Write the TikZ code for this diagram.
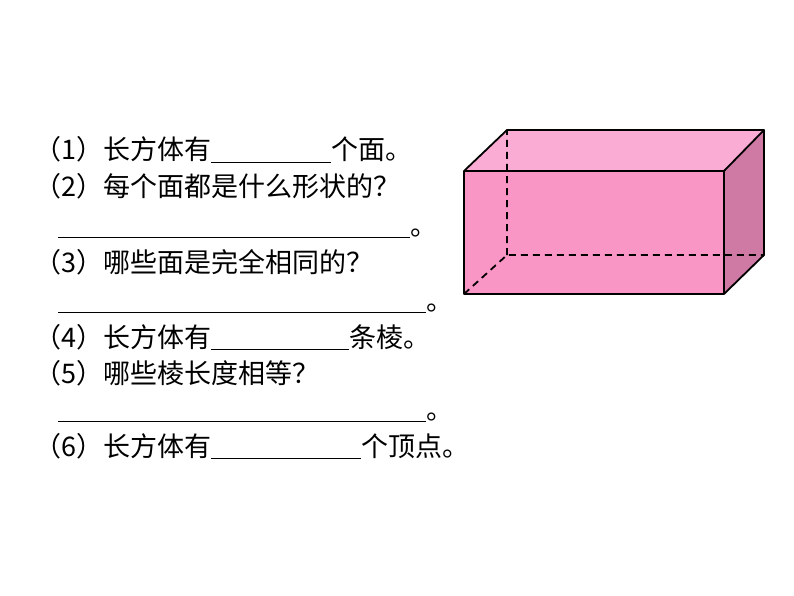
\documentclass[tikz,border=0pt]{standalone}
\usepackage{fontspec}
\setmainfont{Noto Sans CJK SC}
\definecolor{frontpink}{RGB}{249,150,198}
\definecolor{toppink}{RGB}{250,172,212}
\definecolor{sidepink}{RGB}{206,122,165}
\newcommand{\blankline}[1]{\rule[-3pt]{#1}{0.9pt}}
\tikzset{
  qline/.style={anchor=base west,inner sep=0pt,font=\fontsize{27}{27}\selectfont},
  edgeline/.style={line width=1.8pt,line join=round},
  hidden/.style={line width=1.8pt,dash pattern=on 7pt off 5pt}
}
\begin{document}
\begin{tikzpicture}[x=1pt,y=-1pt]
\useasboundingbox (0,0) rectangle (794,596);
% questions
\node[qline] (q1) at (34,160) {（1）长方体有\blankline{120pt}个面。};
\node[qline] (q2) at (34,196) {（2）每个面都是什么形状的？};
\node[qline] (q2a) at (58,235) {\blankline{352pt}。};
\node[qline] (q3) at (34,272) {（3）哪些面是完全相同的？};
\node[qline] (q3a) at (58,310) {\blankline{368pt}。};
\node[qline] (q4) at (34,347) {（4）长方体有\blankline{138pt}条棱。};
\node[qline] (q5) at (34,383) {（5）哪些棱长度相等？};
\node[qline] (q5a) at (58,419) {\blankline{368pt}。};
\node[qline] (q6) at (34,456) {（6）长方体有\blankline{150pt}个顶点。};
% cuboid
\coordinate (a) at (464,294); \coordinate (b) at (724,294);
\coordinate (c) at (724,171); \coordinate (d) at (464,171);
\coordinate (e) at (507,255); \coordinate (f) at (764,255);
\coordinate (g) at (764,130); \coordinate (h) at (507,130);
\fill[toppink] (d) -- (h) -- (g) -- (c) -- cycle;
\fill[frontpink] (a) -- (b) -- (c) -- (d) -- cycle;
\fill[sidepink] (b) -- (f) -- (g) -- (c) -- cycle;
\draw[hidden] (a) -- (e) -- (f) (e) -- (h);
\draw[edgeline] (a) -- (b) -- (c) -- (d) -- cycle (d) -- (h) -- (g) -- (c)
  (b) -- (f) -- (g);
\end{tikzpicture}
\end{document}
